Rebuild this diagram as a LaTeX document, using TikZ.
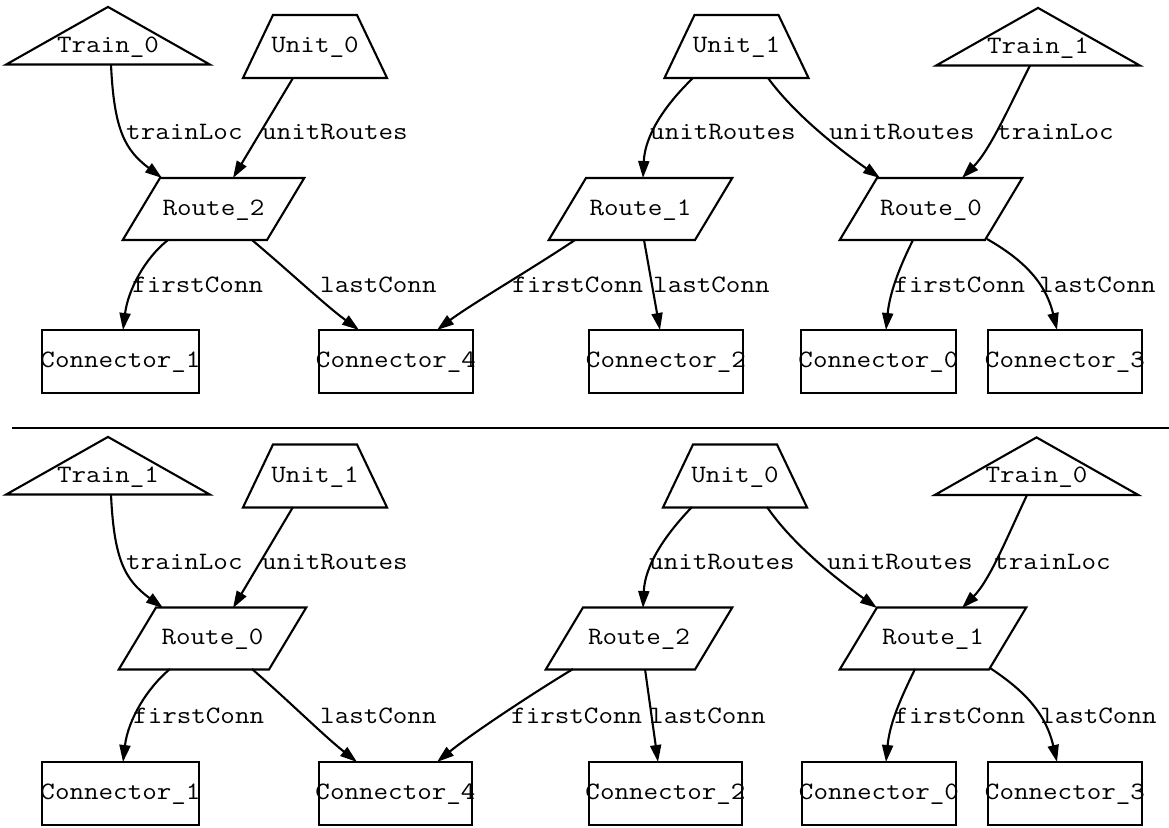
\documentclass[tikz,border=0pt]{standalone}
\usepackage{fontspec}
\usetikzlibrary{shapes.geometric,arrows.meta,calc}
% typewriter text widened to the Courier advance width
\newcommand{\wtext}[1]{\scalebox{1.13}[1]{#1}}
% zero-width centred text so the outline size comes only from the inner separations
\newcommand{\ctrtext}[1]{\makebox[0pt]{\wtext{#1}}}
\begin{document}
\begin{tikzpicture}[x=1pt,y=-1pt,
  every node/.style={font=\ttfamily\fontsize{25}{25}\selectfont,
    inner sep=0pt, text height=12pt, text depth=0pt},
  gshape/.style={draw, line width=2.1pt},
  train/.style={gshape, isosceles triangle, shape border rotate=90,
    isosceles triangle apex angle=121, inner xsep=36.4pt, inner ysep=12.5pt},
  unit/.style={gshape, trapezium, trapezium left angle=64.5,
    trapezium right angle=64.5, inner xsep=42pt, inner ysep=25.5pt},
  route/.style={gshape, trapezium, trapezium left angle=59,
    trapezium right angle=121, inner xsep=#1, inner ysep=25pt},
  conn/.style={gshape, rectangle, minimum width=#1, minimum height=63pt},
  edge/.style={line width=2.1pt, -{Triangle[length=17pt,width=11pt]}},
  elbl/.style={anchor=base west}]
\useasboundingbox (0,0) rectangle (1169,827);

% ---------------- upper graph ----------------
\node[train] (t0) at (108,46) {\ctrtext{Train\_0}};
\node[unit] (u0) at (315,46.5) {\ctrtext{Unit\_0}};
\node[unit] (u1) at (736.5,46.5) {\ctrtext{Unit\_1}};
\node[train] (t1) at (1038,47) {\ctrtext{Train\_1}};
\node[route=53.5pt] (r2) at (213.5,209) {\ctrtext{Route\_2}};
\node[route=54.5pt] (r1) at (640.5,209) {\ctrtext{Route\_1}};
\node[route=54pt] (r0) at (931,209) {\ctrtext{Route\_0}};
\node[conn=157pt] (c1) at (120.5,361.5) {\ctrtext{Connector\_1}};
\node[conn=154pt] (c4) at (396,361.5) {\ctrtext{Connector\_4}};
\node[conn=154pt] (c2) at (666,361.5) {\ctrtext{Connector\_2}};
\node[conn=155pt] (c0) at (878.5,361.5) {\ctrtext{Connector\_0}};
\node[conn=154pt] (c3) at (1065,361.5) {\ctrtext{Connector\_3}};

\draw[edge] ($(t0)+(3,18.5)$) .. controls (114,130) and (125,150) .. ($(r2)+(-51.5,-31)$);
\draw[edge] ($(u0)+(-22,31.5)$) -- ($(r2)+(19.5,-31)$);
\draw[edge] ($(r2)+(-45.5,31)$) .. controls (145,258) and (128,290) .. ($(c1)+(2.5,-31.5)$);
\draw[edge] ($(r2)+(38.5,31)$) .. controls (290,272) and (325,305) .. ($(c4)+(-37,-31.5)$);
\draw[edge] ($(r1)+(-65.5,31)$) .. controls (530,270) and (470,305) .. ($(c4)+(41,-31.5)$);
\draw[edge] ($(r1)+(3.5,31)$) -- ($(c2)+(-6,-31.5)$);
\draw[edge] ($(u1)+(-43.5,31.5)$) .. controls (665,105) and (645,135) .. ($(r1)+(2.5,-31)$);
\draw[edge] ($(u1)+(31.5,31.5)$) .. controls (795,115) and (840,150) .. ($(r0)+(-51,-31)$);
\draw[edge] ($(t1)+(-8,18.5)$) .. controls (1010,105) and (990,150) .. ($(r0)+(31,-31)$);
\draw[edge] ($(r0)+(-18,31)$) .. controls (902,262) and (890,290) .. ($(c0)+(7.5,-31.5)$);
\draw[edge] ($(r0)+(56,30)$) .. controls (1020,258) and (1045,280) .. ($(c3)+(-8,-31.5)$);

\node[elbl] (a1) at (126,139) {\wtext{trainLoc}};
\node[elbl] (a2) at (262,139) {\wtext{unitRoutes}};
\node[elbl] (a3) at (650,139) {\wtext{unitRoutes}};
\node[elbl] (a4) at (829,139) {\wtext{unitRoutes}};
\node[elbl] (a5) at (997,139) {\wtext{trainLoc}};
\node[elbl] (a6) at (132,292) {\wtext{firstConn}};
\node[elbl] (a7) at (320,292) {\wtext{lastConn}};
\node[elbl] (a8) at (512,292) {\wtext{firstConn}};
\node[elbl] (a9) at (653,292) {\wtext{lastConn}};
\node[elbl] (a10) at (894,292) {\wtext{firstConn}};
\node[elbl] (a11) at (1039,292) {\wtext{lastConn}};

% divider
\draw[line width=1.8pt] (12,428) -- (1169,428);

% ---------------- lower graph ----------------
\node[train] (t1b) at (108,476) {\ctrtext{Train\_1}};
\node[unit] (u1b) at (315,476) {\ctrtext{Unit\_1}};
\node[unit] (u0b) at (735,476) {\ctrtext{Unit\_0}};
\node[train] (t0b) at (1036.5,476.5) {\ctrtext{Train\_0}};
\node[route=56.5pt] (r0b) at (212.5,638.5) {\ctrtext{Route\_0}};
\node[route=56pt] (r2b) at (639,638.5) {\ctrtext{Route\_2}};
\node[route=56pt] (r1b) at (933,638.5) {\ctrtext{Route\_1}};
\node[conn=157pt] (c1b) at (120.5,793.5) {\ctrtext{Connector\_1}};
\node[conn=153pt] (c4b) at (395.5,793.5) {\ctrtext{Connector\_4}};
\node[conn=153pt] (c2b) at (665.5,793.5) {\ctrtext{Connector\_2}};
\node[conn=154pt] (c0b) at (879,793.5) {\ctrtext{Connector\_0}};
\node[conn=154pt] (c3b) at (1065,793.5) {\ctrtext{Connector\_3}};

\draw[edge] ($(t1b)+(3,18.5)$) .. controls (114,560) and (125,580) .. ($(r0b)+(-49.5,-30.5)$);
\draw[edge] ($(u1b)+(-22,31)$) -- ($(r0b)+(20.5,-30.5)$);
\draw[edge] ($(r0b)+(-42.5,30.5)$) .. controls (147,688) and (128,720) .. ($(c1b)+(2.5,-31.5)$);
\draw[edge] ($(r0b)+(39.5,30.5)$) .. controls (290,702) and (323,735) .. ($(c4b)+(-38.5,-31.5)$);
\draw[edge] ($(u0b)+(-43,31)$) .. controls (665,535) and (645,565) .. ($(r2b)+(4,-30.5)$);
\draw[edge] ($(r2b)+(-66,30.5)$) .. controls (530,695) and (470,735) .. ($(c4b)+(41.5,-31.5)$);
\draw[edge] ($(r2b)+(6,30.5)$) -- ($(c2b)+(-7.5,-31.5)$);
\draw[edge] ($(u0b)+(32,31)$) .. controls (793,545) and (838,580) .. ($(r1b)+(-56,-30.5)$);
\draw[edge] ($(t0b)+(-9.5,18.5)$) .. controls (1008,535) and (990,580) .. ($(r1b)+(29,-30.5)$);
\draw[edge] ($(r1b)+(-18,30.5)$) .. controls (904,692) and (890,720) .. ($(c0b)+(7,-31.5)$);
\draw[edge] ($(r1b)+(57,29.5)$) .. controls (1020,688) and (1045,710) .. ($(c3b)+(-8,-31.5)$);

\node[elbl] (b1) at (126,569) {\wtext{trainLoc}};
\node[elbl] (b2) at (262,569) {\wtext{unitRoutes}};
\node[elbl] (b3) at (649,569) {\wtext{unitRoutes}};
\node[elbl] (b4) at (827,569) {\wtext{unitRoutes}};
\node[elbl] (b5) at (994,569) {\wtext{trainLoc}};
\node[elbl] (b6) at (133,723) {\wtext{firstConn}};
\node[elbl] (b7) at (320,723) {\wtext{lastConn}};
\node[elbl] (b8) at (511,723) {\wtext{firstConn}};
\node[elbl] (b9) at (649,723) {\wtext{lastConn}};
\node[elbl] (b10) at (894,723) {\wtext{firstConn}};
\node[elbl] (b11) at (1040,723) {\wtext{lastConn}};
\end{tikzpicture}
\end{document}
